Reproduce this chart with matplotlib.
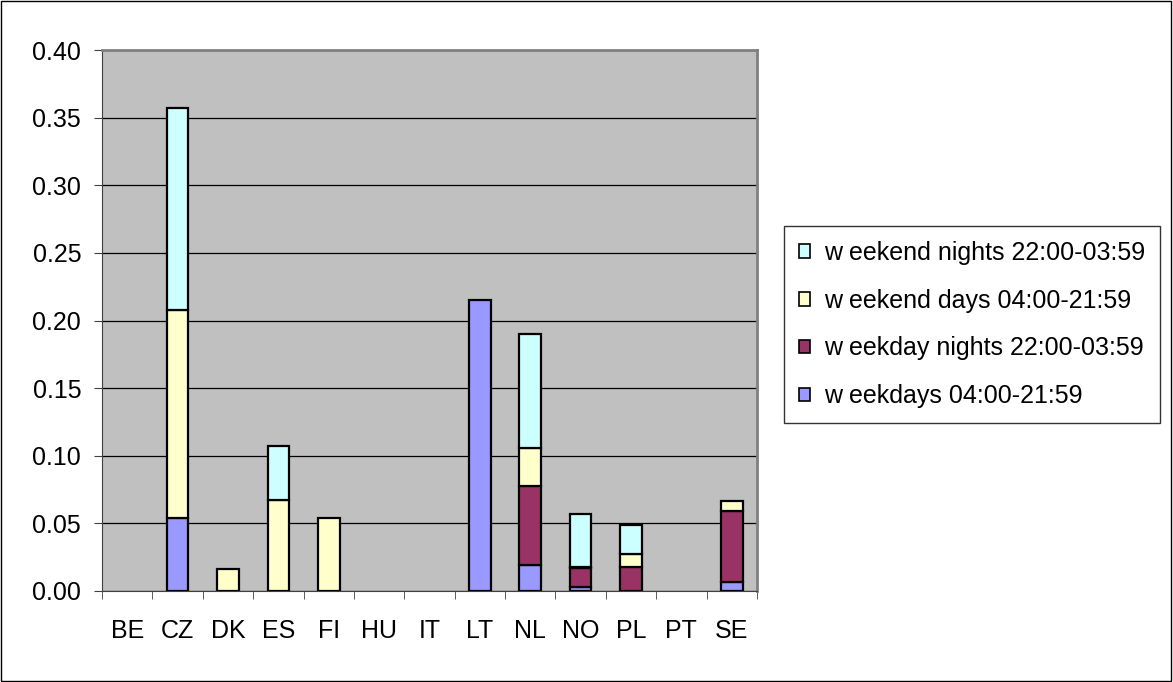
import matplotlib

matplotlib.use("Agg")
import matplotlib.pyplot as plt
import numpy as np
from matplotlib.patches import Rectangle

plt.rcParams["font.family"] = ["Liberation Sans", "DejaVu Sans"]

countries = ["BE", "CZ", "DK", "ES", "FI", "HU", "IT", "LT", "NL", "NO", "PL", "PT", "SE"]
weekdays = [0, 0.054, 0, 0, 0, 0, 0, 0.215, 0.019, 0.003, 0, 0, 0.007]
weekday_nights = [0, 0, 0, 0, 0, 0, 0, 0, 0.059, 0.014, 0.018, 0, 0.052]
weekend_days = [0, 0.154, 0.016, 0.067, 0.054, 0, 0, 0, 0.028, 0.001, 0.009, 0, 0.0075]
weekend_nights = [0, 0.149, 0, 0.040, 0, 0, 0, 0, 0.084, 0.039, 0.022, 0, 0]

series = [
    ("w eekdays 04:00-21:59", weekdays, "#9999FF"),
    ("w eekday nights 22:00-03:59", weekday_nights, "#993366"),
    ("w eekend days 04:00-21:59", weekend_days, "#FFFFCC"),
    ("w eekend nights 22:00-03:59", weekend_nights, "#CCFFFF"),
]

W, H = 1173, 682
fig = plt.figure(figsize=(W / 100, H / 100), dpi=100)
fig.patch.set_facecolor("white")
fig.add_artist(Rectangle((0.001, 0.001), 0.997, 0.997, transform=fig.transFigure,
                         fill=False, edgecolor="black", linewidth=1))

# plot area in pixels: left 102, right 757, top 50, bottom 591
ax = fig.add_axes([102 / W, 1 - 591 / H, 655 / W, 541 / H])
ax.set_facecolor("#C0C0C0")

x = np.arange(len(countries))
bottom = np.zeros(len(countries))
handles = []
for label, vals, color in series:
    vals = np.array(vals)
    mask = vals > 0
    ax.bar(x[mask], vals[mask], width=0.43, bottom=bottom[mask], color=color,
           edgecolor="black", linewidth=1.6, zorder=3)
    handles.append(Rectangle((0, 0), 1, 1, facecolor=color, edgecolor="black", linewidth=1.2))
    bottom += vals

ax.set_xlim(-0.5, len(countries) - 0.5)
ax.set_ylim(0, 0.40)
yt = np.arange(0, 0.401, 0.05)
ax.set_yticks(yt)
ax.set_yticklabels([f"{v:.2f}" for v in yt], fontsize=18)
ax.yaxis.grid(True, color="black", linewidth=0.9, zorder=0)
ax.set_axisbelow(True)

ax.set_xticks(x)
ax.set_xticklabels(countries, fontsize=18)
ax.set_xticks(np.arange(-0.5, len(countries), 1), minor=True)
ax.tick_params(axis="x", which="major", length=0, pad=20)
ax.tick_params(axis="x", which="minor", length=6, direction="out", color="#404040")
ax.tick_params(axis="y", length=6, direction="out", pad=9, color="#404040")

for side in ["top", "right"]:
    ax.spines[side].set_color("#808080")
    ax.spines[side].set_linewidth(2)
ax.spines["left"].set_color("#404040")
ax.spines["bottom"].set_color("#404040")

leg = fig.legend(handles[::-1], [s[0] for s in series][::-1],
                 loc="upper left", bbox_to_anchor=(784 / W, 1 - 226 / H),
                 bbox_transform=fig.transFigure,
                 fontsize=18, frameon=True, fancybox=False, edgecolor="black",
                 handlelength=0.45, handleheight=0.45, handletextpad=0.55,
                 labelspacing=0.95, borderpad=0.6, borderaxespad=0)
leg.get_frame().set_linewidth(1)

fig.savefig("out.png", dpi=100)
